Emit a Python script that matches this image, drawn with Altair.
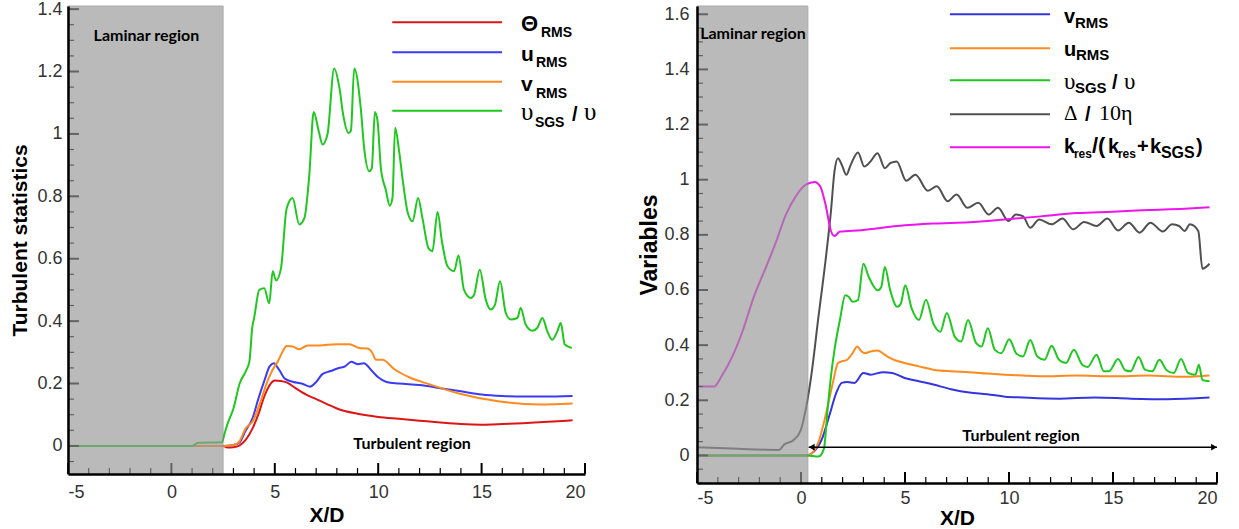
import altair as alt
import pandas as pd

# ---------------- data ----------------
L_theta_x = [-5, 2.5, 2.7, 3.0, 3.3, 3.6, 3.93, 4.2, 4.5, 4.8, 5.0, 5.3, 5.6, 6.0, 6.5, 7.0, 7.5, 8.0,
             9.0, 10.0, 11.0, 12.0, 13.0, 14.0, 15.0, 16.0, 17.0, 18.0, 19.4]
L_theta_y = [0, 0, -0.005, -0.004, 0.002, 0.02, 0.057, 0.1, 0.16, 0.2, 0.21, 0.208, 0.203, 0.185, 0.165,
             0.15, 0.135, 0.12, 0.103, 0.093, 0.087, 0.081, 0.075, 0.07, 0.068, 0.07, 0.073, 0.077, 0.082]

L_u_x = [-5, 2.5, 3.0, 3.3, 3.6, 3.93, 4.2, 4.5, 4.75, 4.95, 5.2, 5.5, 5.9, 6.3, 6.7, 7.0, 7.3, 7.7,
         8.1, 8.4, 8.7, 9.0, 9.3, 9.7, 10.0, 10.4, 11.0, 12.0, 13.0, 14.0, 15.0, 16.0, 17.0, 18.0, 19.4]
L_u_y = [0, 0, 0.003, 0.012, 0.05, 0.09, 0.15, 0.21, 0.255, 0.265, 0.245, 0.215, 0.205, 0.2, 0.19,
         0.205, 0.23, 0.24, 0.25, 0.255, 0.27, 0.262, 0.265, 0.24, 0.22, 0.205, 0.2, 0.195, 0.185, 0.175,
         0.165, 0.16, 0.158, 0.158, 0.16]

L_v_x = [-5, 2.5, 3.0, 3.28, 3.6, 3.93, 4.3, 4.6, 4.9, 5.14, 5.4, 5.57, 5.86, 6.18, 6.59, 7.15, 7.96,
         8.6, 9.08, 9.48, 9.72, 9.89, 10.2, 10.8, 11.5, 12.5, 13.9, 15.8, 17.8, 19.4]
L_v_y = [0, 0, 0.003, 0.014, 0.057, 0.079, 0.14, 0.2, 0.245, 0.27, 0.305, 0.32, 0.319, 0.31, 0.322,
         0.322, 0.326, 0.326, 0.314, 0.312, 0.298, 0.276, 0.276, 0.245, 0.22, 0.197, 0.168, 0.143, 0.133, 0.136]

L_nu_x = [-5, 1.0, 1.3, 2.45, 2.56, 2.71, 3.0, 3.3, 3.6, 3.77, 3.91, 4.0, 4.25, 4.49, 4.73, 4.9, 5.06,
          5.3, 5.57, 5.86, 6.18, 6.43, 6.67, 6.88, 7.12, 7.31, 7.55, 7.87, 8.12, 8.31, 8.57, 8.68, 8.84,
          9.16, 9.32, 9.57, 9.69, 9.84, 9.97, 10.13, 10.37, 10.56, 10.69, 10.82, 11.01, 11.21, 11.42,
          11.66, 11.93, 12.14, 12.43, 12.62, 12.87, 13.08, 13.35, 13.67, 13.88, 14.15, 14.48, 14.64,
          14.91, 15.2, 15.44, 15.65, 15.89, 16.17, 16.41, 16.73, 16.89, 17.13, 17.45, 17.69, 17.94,
          18.18, 18.42, 18.66, 18.83, 19.02, 19.36]
L_nu_y = [0, 0, 0.01, 0.012, 0.037, 0.07, 0.12, 0.2, 0.24, 0.27, 0.38, 0.41, 0.50, 0.505, 0.457, 0.56,
          0.53, 0.57, 0.76, 0.795, 0.71, 0.73, 0.87, 1.07, 1.01, 0.966, 1.0, 1.21, 1.15, 1.06, 1.003,
          1.01, 1.21, 1.08, 0.955, 0.88, 0.89, 1.07, 1.04, 0.89, 0.82, 0.77, 0.795, 1.02, 0.945, 0.84,
          0.75, 0.72, 0.795, 0.73, 0.634, 0.624, 0.75, 0.656, 0.576, 0.56, 0.61, 0.50, 0.474, 0.485,
          0.565, 0.469, 0.437, 0.453, 0.528, 0.426, 0.405, 0.41, 0.442, 0.389, 0.369, 0.378, 0.41,
          0.367, 0.34, 0.367, 0.394, 0.325, 0.314]

R_v_x = [-5, 0.3, 0.49, 1.01, 1.36, 1.7, 1.96, 2.22, 2.57, 3.0, 3.34, 3.95, 4.38, 4.98, 5.67, 6.36,
         7.22, 8.09, 8.95, 9.81, 10.67, 12.4, 14.12, 15.85, 17.58, 19.64]
R_v_y = [0, 0, 0.006, 0.06, 0.144, 0.228, 0.263, 0.266, 0.263, 0.299, 0.293, 0.302, 0.299, 0.281,
         0.269, 0.257, 0.24, 0.228, 0.222, 0.213, 0.21, 0.206, 0.21, 0.206, 0.204, 0.21]

R_u_x = [-5, 0.3, 0.49, 0.84, 1.18, 1.53, 1.78, 1.96, 2.22, 2.48, 2.7, 2.91, 3.08, 3.34, 3.69, 3.95,
         4.29, 4.98, 5.67, 6.36, 7.22, 8.09, 8.95, 9.81, 10.67, 11.54, 13.27, 15.0, 16.73, 18.44, 19.64]
R_u_y = [0, 0, 0.006, 0.048, 0.144, 0.263, 0.335, 0.341, 0.347, 0.371, 0.395, 0.377, 0.371, 0.377,
         0.381, 0.369, 0.353, 0.335, 0.323, 0.311, 0.305, 0.302, 0.297, 0.293, 0.29, 0.287, 0.29,
         0.287, 0.29, 0.285, 0.29]

R_nu_x = [-5, 0.3, 0.84, 1.1, 1.28, 1.44, 1.61, 1.87, 2.13, 2.3, 2.48, 2.74, 3.0, 3.26, 3.69, 3.86,
          4.03, 4.29, 4.63, 4.8, 5.01, 5.32, 5.67, 6.01, 6.36, 6.7, 7.01, 7.39, 7.7, 8.03, 8.42, 8.68,
          8.98, 9.32, 9.63, 10.01, 10.36, 10.67, 11.02, 11.36, 11.71, 12.05, 12.4, 12.74, 13.12, 13.52,
          13.78, 14.21, 14.56, 14.81, 15.24, 15.59, 15.85, 16.23, 16.54, 16.89, 17.23, 17.58, 17.92,
          18.27, 18.61, 18.96, 19.13, 19.3, 19.64]
R_nu_y = [0, 0, -0.004, 0.024, 0.168, 0.287, 0.383, 0.491, 0.581, 0.575, 0.557, 0.563, 0.695, 0.647,
          0.599, 0.611, 0.683, 0.599, 0.539, 0.551, 0.617, 0.533, 0.491, 0.565, 0.479, 0.449, 0.517,
          0.431, 0.413, 0.491, 0.407, 0.395, 0.461, 0.383, 0.371, 0.421, 0.369, 0.359, 0.419, 0.359,
          0.347, 0.398, 0.347, 0.335, 0.383, 0.329, 0.321, 0.365, 0.305, 0.305, 0.35, 0.309, 0.305,
          0.357, 0.311, 0.305, 0.347, 0.309, 0.299, 0.35, 0.299, 0.293, 0.329, 0.273, 0.269]

R_delta_x = [-5, -3, -1.06, -0.80, -0.37, -0.02, 0.23, 0.49, 0.84, 1.18, 1.44, 1.61, 1.78, 1.96, 2.18,
             2.39, 2.74, 3.04, 3.34, 3.68, 4.03, 4.29, 4.6, 5.06, 5.5, 6.1, 6.53, 7.05, 7.48, 8.0, 8.52,
             9.03, 9.47, 9.98, 10.33, 10.67, 11.02, 11.45, 12.05, 12.57, 13.09, 13.61, 14.21, 14.73,
             15.24, 15.76, 16.28, 16.8, 17.4, 17.84, 18.18, 18.44, 18.7, 19.1, 19.3, 19.64]
R_delta_y = [0.03, 0.024, 0.02, 0.04, 0.055, 0.09, 0.168, 0.287, 0.503, 0.707, 0.886, 1.03, 1.078,
             1.054, 1.018, 1.054, 1.099, 1.048, 1.066, 1.096, 1.042, 1.06, 1.066, 0.996, 1.018, 0.96,
             0.976, 0.922, 0.946, 0.898, 0.916, 0.874, 0.898, 0.85, 0.874, 0.868, 0.826, 0.856, 0.838,
             0.859, 0.82, 0.847, 0.832, 0.859, 0.816, 0.844, 0.808, 0.844, 0.812, 0.838, 0.832, 0.814,
             0.838, 0.814, 0.677, 0.695]

R_k_x = [-5, -4.18, -3.82, -3.30, -2.79, -2.27, -1.75, -1.24, -0.72, -0.20, 0.23, 0.66, 0.92, 1.18,
         1.44, 1.61, 1.87, 2.91, 4.63, 6.36, 8.09, 9.81, 11.54, 13.27, 15.0, 16.73, 18.44, 19.64]
R_k_y = [0.25, 0.25, 0.287, 0.359, 0.455, 0.575, 0.671, 0.766, 0.874, 0.946, 0.982, 0.992, 0.976,
         0.91, 0.814, 0.796, 0.812, 0.817, 0.832, 0.841, 0.846, 0.856, 0.867, 0.879, 0.884, 0.89,
         0.895, 0.9]

L_names = ["theta", "u", "v", "nu"]
L_colors = ["#dd1515", "#3b3bf5", "#ff8a1e", "#1ec81e"]
R_names = ["v", "u", "nu", "delta", "k"]
R_colors = ["#3535e0", "#ff8a1e", "#1ec81e", "#505050", "#ee14ee"]

X_TICKS = [-5, 0, 5, 10, 15, 20]
X_MINOR = [v for v in range(-5, 21) if v % 5 != 0]
L_Y_TICKS = [0, 0.2, 0.4, 0.6, 0.8, 1, 1.2, 1.4]
R_Y_TICKS = [0, 0.2, 0.4, 0.6, 0.8, 1, 1.2, 1.4, 1.6]

# ---------------- layout ----------------
FONT = "Liberation Sans"
SERIF = "Liberation Serif"
NOTE_FONT = "Lato"


def long_df(names, xs, ys):
    rows = []
    for n, xv, yv in zip(names, xs, ys):
        assert len(xv) == len(yv), n
        for i, (a, b) in enumerate(zip(xv, yv)):
            rows.append({"series": n, "x": a, "y": b, "order": i})
    return pd.DataFrame(rows)


def minor_y(ydom):
    out = []
    k = -4
    while k * 0.05 <= ydom[1] + 1e-9:
        v = round(k * 0.05, 2)
        if v >= ydom[0] and k % 4 != 0:
            out.append(v)
        k += 1
    return out


def panel(df, names, colors, xdom, ydom, yticks, w, h, lam_x, ytitle, xlab_pad, xtitle_pad,
          ylab_pad, ytitle_pad, ytitle_size, legend, notes, arrow=None):
    xs = alt.Scale(domain=xdom, nice=False, zero=False)
    ys = alt.Scale(domain=ydom, nice=False, zero=False)
    xax = alt.Axis(orient="bottom", values=X_TICKS, labelExpr="'' + datum.value", title="X/D",
                   labelPadding=xlab_pad, titlePadding=xtitle_pad, ticks=False, tickSize=0,
                   grid=False, zindex=2)
    yax = alt.Axis(orient="left", values=yticks, labelExpr="'' + datum.value", title=ytitle,
                   labelPadding=ylab_pad, titlePadding=ytitle_pad, titleFontSize=ytitle_size,
                   ticks=False, tickSize=0, grid=False, zindex=2)
    X = lambda ax=None, f="x": alt.X(f + ":Q", scale=xs, axis=ax)
    Y = lambda ax=None, f="y": alt.Y(f + ":Q", scale=ys, axis=ax)
    px_x = (xdom[1] - xdom[0]) / w
    px_y = (ydom[1] - ydom[0]) / h

    layers = []
    lines = alt.Chart(df).mark_line(strokeWidth=2, clip=True, interpolate="monotone").encode(
        x=X(xax), y=Y(yax),
        color=alt.Color("series:N", scale=alt.Scale(domain=names, range=colors), legend=None),
        order="order:Q",
    )
    layers.append(lines)

    # inward ticks (under the laminar shading), drawn as short rules
    def xt(vals, length, sw):
        d = pd.DataFrame({"x": vals, "y": [ydom[0]] * len(vals),
                          "y2": [ydom[0] + length * px_y] * len(vals)})
        return alt.Chart(d).mark_rule(color="black", strokeWidth=sw).encode(
            x=X(), y=Y(), y2="y2:Q")

    def yt(vals, length, sw):
        d = pd.DataFrame({"y": vals, "x": [xdom[0]] * len(vals),
                          "x2": [xdom[0] + length * px_x] * len(vals)})
        return alt.Chart(d).mark_rule(color="black", strokeWidth=sw).encode(
            y=Y(), x=X(), x2="x2:Q")

    layers.append(xt(X_TICKS, 11, 2))
    layers.append(xt(X_MINOR, 6, 1.2))
    layers.append(yt(yticks, 11, 2))
    layers.append(yt(minor_y(ydom), 6, 1.2))

    shade = pd.DataFrame({"x": [xdom[0]], "x2": [lam_x], "y": [ydom[0]], "y2": [ydom[1]]})
    layers.append(alt.Chart(shade).mark_rect(color="#979797", opacity=0.66, stroke="#808080",
                                             strokeWidth=1).encode(
        x=X(), x2="x2:Q", y=Y(), y2="y2:Q"))

    lx0, lx1, ltx, rows, segs = legend
    ldf = pd.DataFrame({"x": [lx0] * len(rows), "x2": [lx1] * len(rows), "y": rows,
                        "series": names})
    layers.append(alt.Chart(ldf).mark_rule(strokeWidth=2).encode(
        x=X(), x2="x2:Q", y=Y(),
        color=alt.Color("series:N", scale=alt.Scale(domain=names, range=colors), legend=None)))
    for (ri, txt, dx, dy, size, weight, font) in segs:
        sdf = pd.DataFrame({"x": [ltx], "y": [rows[ri]], "t": [txt]})
        layers.append(alt.Chart(sdf).mark_text(align="left", baseline="alphabetic", dx=dx, dy=dy,
                                               fontSize=size, fontWeight=weight, font=font,
                                               color="black").encode(x=X(), y=Y(), text="t:N"))

    for (txt, nx, ny) in notes:
        ndf = pd.DataFrame({"x": [nx], "y": [ny], "t": [txt]})
        layers.append(alt.Chart(ndf).mark_text(align="center", baseline="middle", font=NOTE_FONT,
                                               fontWeight="bold", fontSize=16, color="black").encode(
            x=X(), y=Y(), text="t:N"))

    if arrow is not None:
        ax0, ax1, ay = arrow
        adf = pd.DataFrame({"x": [ax0], "x2": [ax1], "y": [ay]})
        layers.append(alt.Chart(adf).mark_rule(color="black", strokeWidth=1.5).encode(
            x=X(), x2="x2:Q", y=Y()))
        hl = pd.DataFrame({"x": [ax0 + 3 * px_x], "y": [ay]})
        hr = pd.DataFrame({"x": [ax1 - 3 * px_x], "y": [ay]})
        layers.append(alt.Chart(hl).mark_point(shape="triangle-left", filled=True, color="black",
                                               opacity=1, size=45).encode(x=X(), y=Y()))
        layers.append(alt.Chart(hr).mark_point(shape="triangle-right", filled=True, color="black",
                                               opacity=1, size=45).encode(x=X(), y=Y()))

    return alt.layer(*layers).resolve_axis(x="independent", y="independent").properties(
        width=w, height=h)


L_df = long_df(L_names, [L_theta_x, L_u_x, L_v_x, L_nu_x], [L_theta_y, L_u_y, L_v_y, L_nu_y])
R_df = long_df(R_names, [R_v_x, R_u_x, R_nu_x, R_delta_x, R_k_x],
               [R_v_y, R_u_y, R_nu_y, R_delta_y, R_k_y])

L_legend = (10.68, 15.99, 16.9, [1.358, 1.262, 1.167, 1.074], [
    (0, "Θ", 0, 9, 22, "bold", FONT), (0, "RMS", 20, 15, 14, "bold", FONT),
    (1, "u", 0, 9, 21, "bold", FONT), (1, "RMS", 15, 15, 14, "bold", FONT),
    (2, "v", 0, 9, 21, "bold", FONT), (2, "RMS", 15, 16, 14, "bold", FONT),
    (3, "υ", 0, 9, 25, "normal", SERIF), (3, "SGS", 14, 16, 14, "bold", FONT),
    (3, "/", 51, 10, 20, "bold", FONT), (3, "υ", 63, 9, 25, "normal", SERIF),
])
R_legend = (7.16, 11.97, 12.64, [1.600, 1.477, 1.361, 1.237, 1.118], [
    (0, "v", 0, 9, 20, "bold", FONT), (0, "RMS", 11, 14, 15, "bold", FONT),
    (1, "u", 0, 8, 20, "bold", FONT), (1, "RMS", 12, 12, 15, "bold", FONT),
    (2, "υ", 0, 9, 23, "normal", SERIF), (2, "SGS", 11, 13, 15, "bold", FONT),
    (2, "/", 48, 9, 20, "bold", FONT), (2, "υ", 60, 9, 23, "normal", SERIF),
    (3, "Δ", 0, 6, 21, "normal", SERIF), (3, "/", 21, 7, 20, "bold", FONT),
    (3, "10η", 35, 6, 22, "normal", SERIF),
    (4, "k", 0, 6, 20, "bold", FONT), (4, "res", 10, 11, 12, "bold", FONT),
    (4, "/(", 28, 6, 22, "bold", FONT), (4, "k", 44, 6, 20, "bold", FONT),
    (4, "res", 54, 11, 12, "bold", FONT), (4, "+", 73, 6, 20, "bold", FONT),
    (4, "k", 86, 6, 20, "bold", FONT), (4, "SGS", 97, 11, 16, "bold", FONT),
    (4, ")", 132, 6, 20, "bold", FONT),
])

left = panel(L_df, L_names, L_colors, [-5, 20], [-0.09, 1.41], L_Y_TICKS, 517, 468, 2.5,
             "Turbulent statistics", 9, 3, 6, 6, 21, L_legend,
             [("Laminar region", -1.21, 1.313), ("Turbulent region", 11.64, 0.005)])
right = panel(R_df, R_names, R_colors, [-5, 20], [-0.1, 1.63], R_Y_TICKS, 520, 477, 0.33,
              "Variables", 6, 0, 8, 2, 23, R_legend,
              [("Laminar region", -2.31, 1.528), ("Turbulent region", 10.58, 0.069)],
              arrow=(0.37, 20.0, 0.03))

chart = alt.hconcat(left, right, spacing=41).resolve_scale(
    x="independent", y="independent", color="independent"
).properties(
    padding={"left": 9, "top": 0, "right": 0, "bottom": 0},
    background="white",
).configure_view(stroke=None).configure_axis(
    domainColor="black", domainWidth=2.5, labelFont=FONT, labelFontSize=18, labelColor="#333333",
    titleFont=FONT, titleFontWeight="bold", titleFontSize=21, titleColor="black",
)

chart.save("out.html", embed_options={"renderer": "svg", "actions": False})
